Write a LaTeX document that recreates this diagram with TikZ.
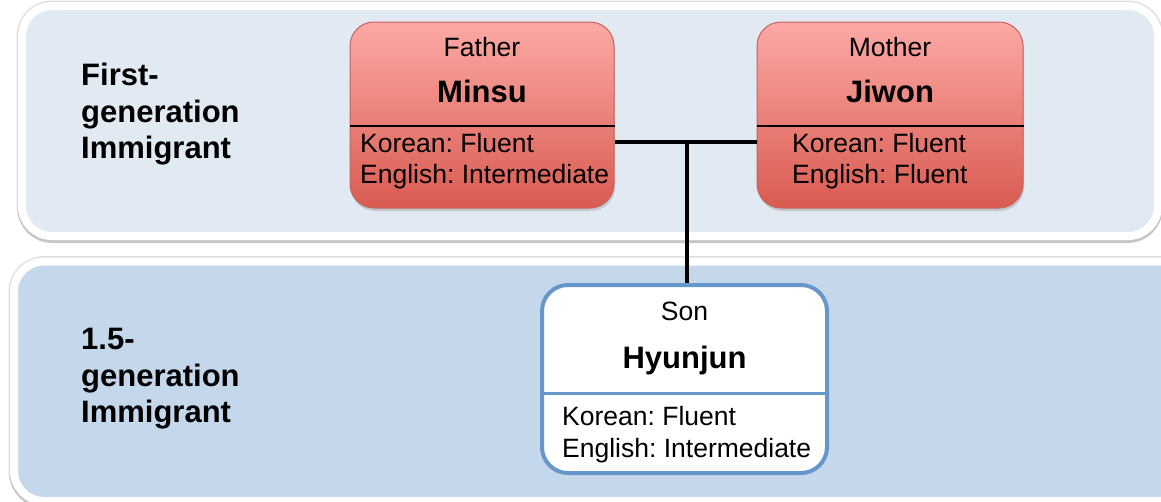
\documentclass[tikz,border=0pt]{standalone}
\usepackage{fontspec}
\setmainfont{Liberation Sans}
\frenchspacing
\usetikzlibrary{shadows}
\definecolor{bandtop}{HTML}{E1E9F3}
\definecolor{bandlow}{HTML}{C5D7EB}
\definecolor{redhi}{HTML}{FCA9A5}
\definecolor{redlo}{HTML}{D95B50}
\definecolor{redline}{HTML}{C8625C}
\definecolor{sonblue}{HTML}{6697CA}

\begin{document}
\begin{tikzpicture}[x=1pt,y=-1pt,
  band/.style={draw=white,line width=8pt,rounded corners=30pt,
    preaction={draw=black!12,line width=11pt},
    preaction={draw=black!22,line width=9pt,transform canvas={yshift=-2.5pt}}},
  parentbox/.style={draw=redline,line width=1pt,rounded corners=24pt,
    top color=redhi,bottom color=redlo,minimum height=186pt,
    drop shadow={opacity=0.3,shadow xshift=1pt,shadow yshift=-3pt}},
  sonbox/.style={draw=sonblue,line width=4pt,rounded corners=26pt,fill=white,
    minimum width=285pt,minimum height=188pt},
  gen/.style={anchor=north west,align=left,inner sep=0pt,
    font=\bfseries\fontsize{31}{36.5}\selectfont},
  role/.style={anchor=base,inner sep=0pt,font=\fontsize{26.5}{31}\selectfont},
  person/.style={anchor=base,inner sep=0pt,font=\bfseries\fontsize{31}{36}\selectfont},
  lang/.style={anchor=base west,inner sep=0pt,font=\fontsize{26.5}{31}\selectfont},
  link/.style={line width=4pt}]
   \useasboundingbox (0,0) rectangle (1161,501);
   % Draw the generation bands
   \path[band,fill=bandtop] (22,6) rectangle (1158,236);
   \path[band,fill=bandlow] (14,261.5) rectangle (1190,501);
   \node[gen] (first) at (81,63) {First-\\generation\\Immigrant};
   \node[gen] (onehalf) at (81,328) {1.5-\\generation\\Immigrant};

   % Draw the parents
   \node[parentbox,minimum width=264pt] (father) at (482,115) {};
   \node[parentbox,minimum width=266pt] (mother) at (890,115) {};
   \draw[line width=2pt] (father.west |- 0,126) -- (father.east |- 0,126);
   \draw[line width=2pt] (mother.west |- 0,126) -- (mother.east |- 0,126);
   \node[role] (fatherrole) at (482,56) {Father};
   \node[person] (fathername) at (482,102) {Minsu};
   \node[lang] (fatherkor) at (360,152) {Korean: Fluent};
   \node[lang] (fathereng) at (360,183) {English: Intermediate};
   \node[role] (motherrole) at (890,56) {Mother};
   \node[person] (mothername) at (890,102) {Jiwon};
   \node[lang] (motherkor) at (792,152) {Korean: Fluent};
   \node[lang] (mothereng) at (792,183) {English: Fluent};

   % Draw the son
   \node[sonbox] (son) at (684.5,379) {};
   \draw[sonblue,line width=3pt] (son.west |- 0,393) -- (son.east |- 0,393);
   \node[role] (sonrole) at (684.5,320) {Son};
   \node[person] (sonname) at (684.5,368) {Hyunjun};
   \node[lang] (sonkor) at (562,425) {Korean: Fluent};
   \node[lang] (soneng) at (562,457) {English: Intermediate};

   % Draw the family lines
   \coordinate (wed) at (687,142);
   \draw[link] (father.east |- wed) -- (mother.west |- wed);
   \draw[link] (wed) -- (wed |- son.north);
\end{tikzpicture}
\end{document}
